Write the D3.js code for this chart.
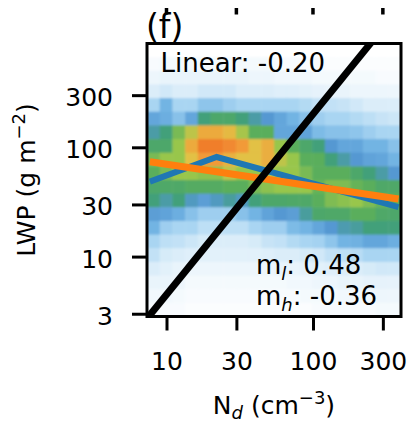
<!DOCTYPE html>
<html lang="en">
<head>
<meta charset="UTF-8">
<title>LWP vs Nd</title>
<script src="https://cdn.jsdelivr.net/npm/d3@7/dist/d3.min.js"></script>
<style>
  body { margin: 0; background: #fff; }
  text { font-family: "DejaVu Sans", sans-serif; fill: #000; }
</style>
</head>
<body>
<script>
    // figure size
    const width = 409;
    const height = 423;

    // plot frame in pixels
    const frame = { left: 147, right: 401, top: 43.5, bottom: 316.5 };

    // axis extents (data units)
    const ndDomain = [7.36, 399];
    const lwpDomain = [2.83, 891];

    const xTicks = [10, 30, 100, 300];
    const yTicks = [3, 10, 30, 100, 300];

    // 2D histogram, colour level 0-10, rows from highest LWP bin down, columns low Nd -> high Nd
    const density = [
        [0,0,0,0,0,0,0,0,0,0,0,0,0,0,0,0,0,0,0,0],
        [0.2,0.3,0.3,0.3,0.3,0.3,0.3,0.3,0.3,0.3,0.2,0.2,0.2,0.2,0.1,0.1,0.1,0.1,0.1,0.1],
        [0.5,0.6,0.6,0.6,0.6,0.6,0.6,0.6,0.5,0.5,0.4,0.4,0.4,0.3,0.3,0.3,0.3,0.3,0.2,0.2],
        [1,1.2,1,1,1.2,1.2,1.2,1,1,1,0.9,0.9,0.8,0.7,0.6,0.6,0.5,0.5,0.5,0.5],
        [2,3,2,2,2.5,2.5,2.2,2,2,2,2,2,1.8,1.5,1.5,1.4,1.2,1,1,1],
        [3.5,3.2,2.6,3.5,5,5.5,5.5,5,4.5,4,3.5,3,2.6,2.2,2,2,1.8,1.6,1.4,1.3],
        [4.5,5,6.5,7.5,8.6,8.6,8.2,7.2,6,6,3.5,3.5,3.6,2.8,2.6,2.6,2.5,2.2,2,2],
        [5.5,5.5,7,8.6,10,10,9.6,9,8,8.5,7,6,5.5,5,4,3.5,3.5,3,3,2.6],
        [6.5,7,7,8,9,9,8.4,8,8,8.5,7.5,7,6,6,5,4.5,4,3.6,3.5,3],
        [6,6.5,7,7,6.8,6.8,7.5,7,7,7.5,7,7,6.5,6,6,6,5.5,5,4.5,4],
        [5.5,5.6,5.6,5.8,5.8,5.8,6,6,6.5,6.8,7,7,7,6.2,6.6,6.6,6.2,6,5.6,5.6],
        [5,4.5,5,4.2,3.8,4.2,4.6,4.2,5,5.5,5.5,5.6,5.6,6,6.6,6.8,7,6.6,6.2,6],
        [3.8,3.6,3.2,2.6,2.2,2.2,2.2,2.6,3,3.6,4,3.8,4.6,5.5,5.6,5.6,6,6,5.6,5.5],
        [3,2.2,2,2,1.6,1.6,1.6,1.6,2,2.2,2.2,2.8,3,3.5,4,4.4,4.6,5,5,5],
        [2,1.6,1.5,1.3,1.1,1,1,1,1.1,1.4,1.5,1.8,2,2.1,2.5,3,3.1,3.5,3.5,3.2],
        [1.5,1.1,1,0.9,0.8,0.8,0.8,0.8,0.8,0.9,1,1,1.1,1.2,1.5,1.6,1.7,2,2,2],
        [1,0.8,0.6,0.5,0.5,0.5,0.5,0.5,0.5,0.5,0.6,0.6,0.7,0.8,0.9,1,1,1.1,1.2,1.2],
        [0.6,0.6,0.5,0.3,0.3,0.3,0.3,0.3,0.3,0.3,0.3,0.4,0.4,0.5,0.5,0.6,0.6,0.7,0.7,0.7],
        [0.4,0.4,0.3,0.2,0.2,0.2,0.2,0.2,0.2,0.2,0.2,0.2,0.3,0.3,0.3,0.4,0.4,0.4,0.5,0.5],
        [0.2,0.2,0.2,0.1,0.1,0.1,0.1,0.1,0.1,0.1,0.1,0.1,0.1,0.2,0.2,0.2,0.2,0.2,0.3,0.3]
    ];

    // fits, [Nd, LWP]
    const linearFit = [[7.7, 73.8], [384, 33.6]];
    const piecewiseFit = [[7.7, 48.5], [22, 81.5], [384, 28.4]];
    const referenceLine = [[7.0, 2.49], [300, 1233]];

    // annotations
    const linearSlope = '-0.20';
    const slopeLow = '0.48';
    const slopeHigh = '-0.36';

    // colour levels
    const levelColours = ['#ffffff', '#dbedf9', '#a9d5f2', '#72b4e3', '#5598d2', '#42a07a',
        '#5aae5c', '#98c64c', '#e2c145', '#f29a38', '#f07e2a'];

    let svg = d3.select('body')
        .append('svg')
        .attr('width', width)
        .attr('height', height);

    let xScale = d3.scaleLog().domain(ndDomain).range([frame.left, frame.right]);
    let yScale = d3.scaleLog().domain(lwpDomain).range([frame.bottom, frame.top]);
    let colour = d3.scaleLinear().domain(d3.range(levelColours.length)).range(levelColours);

    let defs = svg.append('defs');
    defs.append('clipPath')
        .attr('id', 'plotClip')
        .append('rect')
        .attr('x', frame.left)
        .attr('y', frame.top)
        .attr('width', frame.right - frame.left)
        .attr('height', frame.bottom - frame.top);

    // soften the cell edges a little, like the resampled original
    defs.append('filter')
        .attr('id', 'soft')
        .attr('x', '-5%').attr('y', '-5%').attr('width', '110%').attr('height', '110%')
        .append('feGaussianBlur')
        .attr('stdDeviation', 1.1);

    // log-spaced bin edges spanning the axes
    const nCols = density[0].length;
    const nRows = density.length;
    const edge = (dom, n, i) => Math.exp(Math.log(dom[0]) + (Math.log(dom[1]) - Math.log(dom[0])) * i / n);

    let cells = [];
    density.forEach((row, r) => {
        row.forEach((v, c) => {
            cells.push({ r, c, v });
        });
    });

    svg.append('g')
        .attr('clip-path', 'url(#plotClip)')
        .append('g')
        .attr('filter', 'url(#soft)')
        .selectAll('rect')
        .data(cells)
        .enter()
        .append('rect')
        .attr('x', d => xScale(edge(ndDomain, nCols, d.c)))
        .attr('y', d => yScale(edge(lwpDomain, nRows, nRows - d.r)))
        .attr('width', d => xScale(edge(ndDomain, nCols, d.c + 1)) - xScale(edge(ndDomain, nCols, d.c)) + 0.5)
        .attr('height', d => yScale(edge(lwpDomain, nRows, nRows - d.r - 1)) - yScale(edge(lwpDomain, nRows, nRows - d.r)) + 0.5)
        .attr('fill', d => colour(d.v));

    let line = d3.line()
        .x(d => xScale(d[0]))
        .y(d => yScale(d[1]));

    let lines = svg.append('g').attr('clip-path', 'url(#plotClip)');

    lines.append('path')
        .attr('d', line(piecewiseFit))
        .attr('fill', 'none')
        .attr('stroke', '#1f77b4')
        .attr('stroke-width', 6);

    lines.append('path')
        .attr('d', line(linearFit))
        .attr('fill', 'none')
        .attr('stroke', '#ff7f0e')
        .attr('stroke-width', 7);

    lines.append('path')
        .attr('d', line(referenceLine))
        .attr('fill', 'none')
        .attr('stroke', '#000')
        .attr('stroke-width', 7);

    // frame
    svg.append('rect')
        .attr('x', frame.left)
        .attr('y', frame.top)
        .attr('width', frame.right - frame.left)
        .attr('height', frame.bottom - frame.top)
        .attr('fill', 'none')
        .attr('stroke', '#000')
        .attr('stroke-width', 3);

    // x axis
    let xAxis = d3.axisBottom(xScale)
        .tickValues(xTicks)
        .tickFormat(d3.format('d'))
        .tickSize(14)
        .tickPadding(22);

    let gx = svg.append('g')
        .attr('transform', `translate(0, ${frame.bottom})`)
        .call(xAxis);
    gx.select('.domain').remove();
    gx.selectAll('line').attr('stroke', '#000').attr('stroke-width', 3);
    gx.selectAll('text').attr('font-size', 25).attr('dy', 0).attr('y', 53.5);

    // y axis
    let yAxis = d3.axisLeft(yScale)
        .tickValues(yTicks)
        .tickFormat(d3.format('d'))
        .tickSize(15)
        .tickPadding(19);

    let gy = svg.append('g')
        .attr('transform', `translate(${frame.left}, 0)`)
        .call(yAxis);
    gy.select('.domain').remove();
    gy.selectAll('line').attr('stroke', '#000').attr('stroke-width', 3);
    gy.selectAll('text').attr('font-size', 25).attr('dy', '0.42em');

    // ticks of the panel above, cut by the figure edge
    svg.append('g')
        .selectAll('line')
        .data(xTicks)
        .enter()
        .append('line')
        .attr('x1', d => xScale(d))
        .attr('x2', d => xScale(d))
        .attr('y1', 8)
        .attr('y2', 14.5)
        .attr('stroke', '#000')
        .attr('stroke-width', 3.5);

    // panel letter
    svg.append('text')
        .attr('x', 146)
        .attr('y', 38)
        .attr('font-size', 33)
        .text('(f)');

    // axis labels
    let xl = svg.append('text')
        .attr('x', (frame.left + frame.right) / 2)
        .attr('y', 414)
        .attr('text-anchor', 'middle')
        .attr('font-size', 25);
    xl.append('tspan').text('N');
    xl.append('tspan').attr('font-size', 18).attr('font-style', 'italic').attr('dy', 5).text('d');
    xl.append('tspan').attr('dy', -5).text(' (cm');
    xl.append('tspan').attr('font-size', 18).attr('dy', -10).text('\u22123');
    xl.append('tspan').attr('dy', 10).text(')');

    let yl = svg.append('text')
        .attr('transform', `translate(35, ${(frame.top + frame.bottom) / 2}) rotate(-90)`)
        .attr('text-anchor', 'middle')
        .attr('font-size', 25);
    yl.append('tspan').text('LWP (g m');
    yl.append('tspan').attr('font-size', 18).attr('dy', -10).text('\u22122');
    yl.append('tspan').attr('dy', 10).text(')');

    // annotations
    svg.append('text')
        .attr('x', 160.5)
        .attr('y', 71.5)
        .attr('font-size', 26)
        .text('Linear: ' + linearSlope);

    let ml = svg.append('text')
        .attr('x', 256)
        .attr('y', 273.5)
        .attr('font-size', 26);
    ml.append('tspan').text('m');
    ml.append('tspan').attr('font-size', 18).attr('font-style', 'italic').attr('dy', 6).text('l');
    ml.append('tspan').attr('dy', -6).text(': ' + slopeLow);

    let mh = svg.append('text')
        .attr('x', 256)
        .attr('y', 305)
        .attr('font-size', 26);
    mh.append('tspan').text('m');
    mh.append('tspan').attr('font-size', 18).attr('font-style', 'italic').attr('dy', 6).text('h');
    mh.append('tspan').attr('dy', -6).text(': ' + slopeHigh);
</script>
</body>
</html>
